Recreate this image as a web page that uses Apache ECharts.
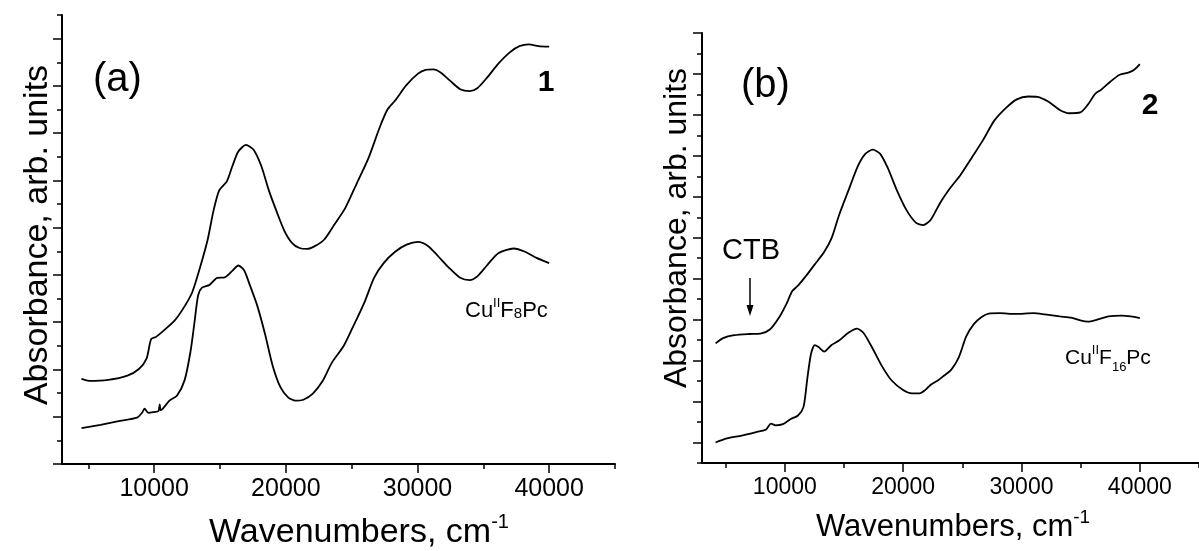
<!DOCTYPE html>
<html lang="en">
<head>
    <meta charset="UTF-8">
    <script type="text/javascript" src="https://cdn.jsdelivr.net/npm/echarts@6.0.0/dist/echarts.min.js"></script>
    <title>Absorbance spectra</title>
    <style>
        html, body { margin: 0; padding: 0; background: #fff; }
        #main { width: 1199px; height: 551px; }
    </style>
</head>
<body>
    <div id="main"></div>
</body>
</html>
<script>
    // (a) curve 1 (top)
    var wnA1 = [4480, 5060, 6515, 7967, 8840, 9420, 9770, 10145, 10870, 11600, 12320, 12900, 13485, 14066, 14500,
        14940, 15520, 15950, 16390, 16970, 17550, 18130, 18710, 19290, 19880, 20460, 21040, 21620, 22200, 22920,
        23650, 24520, 25390, 26260, 27140, 27720, 28300, 29170, 30040, 30620, 31200, 31780, 32510, 33240, 33960,
        34540, 35270, 36140, 37010, 37740, 38460, 39190, 40000];
    var absA1 = [1.80, 1.76, 1.78, 1.87, 2.01, 2.23, 2.64, 2.69, 2.86, 3.05, 3.34, 3.64, 4.16, 4.75, 5.35,
        5.79, 5.98, 6.31, 6.61, 6.75, 6.65, 6.31, 5.79, 5.35, 4.94, 4.68, 4.57, 4.55, 4.61, 4.75,
        5.05, 5.42, 5.94, 6.46, 7.13, 7.50, 7.69, 8.02, 8.26, 8.34, 8.35, 8.28, 8.10, 7.93, 7.89,
        7.95, 8.17, 8.47, 8.71, 8.84, 8.88, 8.84, 8.83];
    // (a) CuIIF8Pc (bottom)
    var wnA2 = [4480, 5930, 7390, 8690, 9070, 9270, 9560, 10000, 10330, 10420, 10500, 11160, 11740, 12320, 12760,
        13050, 13340, 13630, 14210, 14790, 15370, 15950, 16390, 16830, 17260, 17840, 18420, 19000, 19580, 20170,
        20750, 21330, 22050, 22780, 23510, 24380, 25100, 25970, 26700, 27430, 28300, 29170, 30040, 30770, 31490,
        32360, 33240, 33960, 34540, 35270, 36140, 37300, 38170, 39040, 40000];
    var absA2 = [0.76, 0.83, 0.91, 0.98, 1.08, 1.17, 1.08, 1.10, 1.12, 1.26, 1.14, 1.34, 1.45, 1.78, 2.38,
        2.97, 3.57, 3.73, 3.79, 3.94, 3.95, 4.09, 4.20, 4.10, 3.79, 3.34, 2.75, 2.08, 1.63, 1.41,
        1.34, 1.36, 1.49, 1.75, 2.15, 2.49, 2.90, 3.42, 3.94, 4.25, 4.49, 4.64, 4.70, 4.62, 4.42,
        4.16, 3.94, 3.89, 3.97, 4.20, 4.46, 4.56, 4.49, 4.36, 4.25];
    // (b) curve 2 (top)
    var wnB1 = [4150, 4780, 5730, 7000, 7945, 8735, 9525, 10160, 10630, 11110, 11740, 12530, 13320, 13950, 14580,
        15370, 16170, 16800, 17430, 18060, 18690, 19480, 20270, 21070, 21700, 22330, 23120, 23910, 24860, 25810,
        26760, 27700, 28650, 29600, 30550, 31340, 32290, 33240, 34030, 34970, 35610, 36240, 36710, 37500, 38290,
        39080, 39550, 40000];
    var absB1 = [2.42, 2.55, 2.62, 2.65, 2.66, 2.76, 3.06, 3.40, 3.70, 3.83, 4.05, 4.35, 4.65, 4.99, 5.55,
        6.15, 6.75, 7.05, 7.15, 7.05, 6.71, 6.15, 5.68, 5.37, 5.31, 5.44, 5.85, 6.19, 6.54, 6.96,
        7.39, 7.86, 8.16, 8.38, 8.45, 8.44, 8.32, 8.12, 8.04, 8.06, 8.25, 8.52, 8.61, 8.81, 8.98,
        9.04, 9.11, 9.24];
    // (b) CuIIF16Pc (bottom)
    var wnB2 = [4150, 5100, 6360, 7630, 8420, 8830, 9210, 9840, 10470, 11110, 11580, 11900, 12210, 12530, 12850,
        13320, 13950, 14580, 15370, 16100, 16640, 17430, 18220, 19010, 19960, 20750, 21380, 21860, 22330, 22960,
        23440, 24070, 24700, 25330, 25970, 26600, 27230, 28180, 29440, 31020, 31970, 33240, 34190, 34970, 35610,
        36400, 37350, 38460, 39240, 40000];
    var absB2 = [0.00, 0.10, 0.17, 0.26, 0.32, 0.46, 0.42, 0.45, 0.57, 0.66, 0.87, 1.56, 2.16, 2.38, 2.33,
        2.22, 2.38, 2.49, 2.68, 2.78, 2.68, 2.29, 1.86, 1.52, 1.29, 1.20, 1.20, 1.28, 1.41, 1.52,
        1.63, 1.78, 2.08, 2.59, 2.89, 3.06, 3.15, 3.16, 3.14, 3.16, 3.13, 3.08, 3.05, 2.98, 2.95,
        3.00, 3.08, 3.10, 3.08, 3.04];

    var xMajor = [10000, 20000, 30000, 40000];
    var xMinor = [5000, 15000, 25000, 35000, 45000];
    var yMajorA = [0, 1, 2, 3, 4, 5, 6, 7, 8, 9];
    var yMinorA = [0.5, 1.5, 2.5, 3.5, 4.5, 5.5, 6.5, 7.5, 8.5, 9.5];
    var yMajorB = [0, 1, 2, 3, 4, 5, 6, 7, 8, 9, 10];
    var yMinorB = [-0.5, 0.5, 1.5, 2.5, 3.5, 4.5, 5.5, 6.5, 7.5, 8.5, 9.5];

    var FONT = '"Liberation Sans", Arial, sans-serif';

    function zip(xs, ys) {
        return xs.map(function (x, i) { return [x, ys[i]]; });
    }

    function xAx(grid, ticks, len, labels, size) {
        return {
            type: 'value', gridIndex: grid, position: 'bottom', min: 3000, max: 45000,
            splitLine: { show: false },
            axisLine: { show: !!labels, onZero: false, lineStyle: { color: '#000', width: 2 } },
            axisTick: { show: true, customValues: ticks, length: len, lineStyle: { color: '#000', width: 1.5 } },
            axisLabel: labels ? {
                customValues: labels, color: '#000', fontSize: size, fontFamily: FONT, margin: 13,
                formatter: function (v) { return String(v); }
            } : { show: false }
        };
    }

    function yAx(grid, min, max, ticks, len, main) {
        return {
            type: 'value', gridIndex: grid, position: 'left', min: min, max: max,
            splitLine: { show: false },
            axisLine: { show: main, onZero: false, lineStyle: { color: '#000', width: 2 } },
            axisTick: { show: true, customValues: ticks, length: len, lineStyle: { color: '#000', width: 1.5 } },
            axisLabel: { show: false }
        };
    }

    function curve(xi, data) {
        return {
            type: 'line', xAxisIndex: xi, yAxisIndex: xi, data: data,
            showSymbol: false, smooth: 0.25, silent: true,
            lineStyle: { color: '#000', width: 1.8 }
        };
    }

    // place a run of text pieces along one baseline (sub/superscripts)
    var ctx = document.createElement('canvas').getContext('2d');
    function pieces(x, base, list, weight) {
        var out = [];
        list.forEach(function (p) {
            var font = (weight || 'normal') + ' ' + p[1] + 'px ' + FONT;
            out.push({
                type: 'text', x: x, y: base + (p[2] || 0) - 0.31 * p[1], silent: true,
                style: { text: p[0], font: font, fill: '#000', textAlign: 'left', textVerticalAlign: 'middle' }
            });
            ctx.font = font;
            x += ctx.measureText(p[0]).width;
        });
        return out;
    }

    function label(x, y, text, size, opts) {
        opts = opts || {};
        return {
            type: 'text', x: x, y: y, rotation: opts.rotation || 0, silent: true,
            style: {
                text: text, fill: '#000',
                font: (opts.weight || 'normal') + ' ' + size + 'px ' + FONT,
                textAlign: opts.align || 'center', textVerticalAlign: 'middle'
            }
        };
    }

    var graphics = [
        label(38, 235, 'Absorbance, arb. units', 34, { rotation: Math.PI / 2 }),
        label(677, 228, 'Absorbance, arb. units', 32, { rotation: Math.PI / 2 }),
        label(93, 80, '(a)', 40, { align: 'left' }),
        label(741, 86, '(b)', 40, { align: 'left' }),
        label(546, 83, '1', 30, { weight: 'bold' }),
        label(1150, 106, '2', 30, { weight: 'bold' }),
        label(751, 251, 'CTB', 29),
        { type: 'line', silent: true, shape: { x1: 750, y1: 278, x2: 750, y2: 309 }, style: { stroke: '#000', lineWidth: 1.5 } },
        { type: 'polygon', silent: true, shape: { points: [[746.5, 305], [753.5, 305], [750, 316]] }, style: { fill: '#000' } }
    ];
    graphics = graphics
        .concat(pieces(209, 543, [['Wavenumbers, cm', 34], ['-1', 20, -14]]))
        .concat(pieces(816, 537, [['Wavenumbers, cm', 31], ['-1', 19, -13]]))
        .concat(pieces(465, 318, [['Cu', 22], ['II', 13, -11], ['F', 22], ['8', 15, 1], ['Pc', 22]]))
        .concat(pieces(1065, 365, [['Cu', 21], ['II', 13, -11], ['F', 21], ['16', 13, 6], ['Pc', 21]]));

    var myChart = echarts.init(document.getElementById('main'));
    myChart.setOption({
        animation: false,
        backgroundColor: '#fff',
        grid: [
            { left: 62, top: 15, width: 553, height: 449 },
            { left: 702, top: 33, width: 508, height: 430 }
        ],
        xAxis: [
            xAx(0, xMajor, 9, xMajor, 25),
            xAx(0, xMinor, 5, null),
            xAx(1, xMajor, 9, xMajor, 23),
            xAx(1, xMinor, 5, null)
        ],
        yAxis: [
            yAx(0, 0, 9.5, yMajorA, 9, true),
            yAx(0, 0, 9.5, yMinorA, 5, false),
            yAx(1, -0.5, 10, yMajorB, 9, true),
            yAx(1, -0.5, 10, yMinorB, 5, false)
        ],
        series: [
            curve(0, zip(wnA1, absA1)),
            curve(0, zip(wnA2, absA2)),
            curve(2, zip(wnB1, absB1)),
            curve(2, zip(wnB2, absB2))
        ],
        graphic: graphics
    });
</script>
